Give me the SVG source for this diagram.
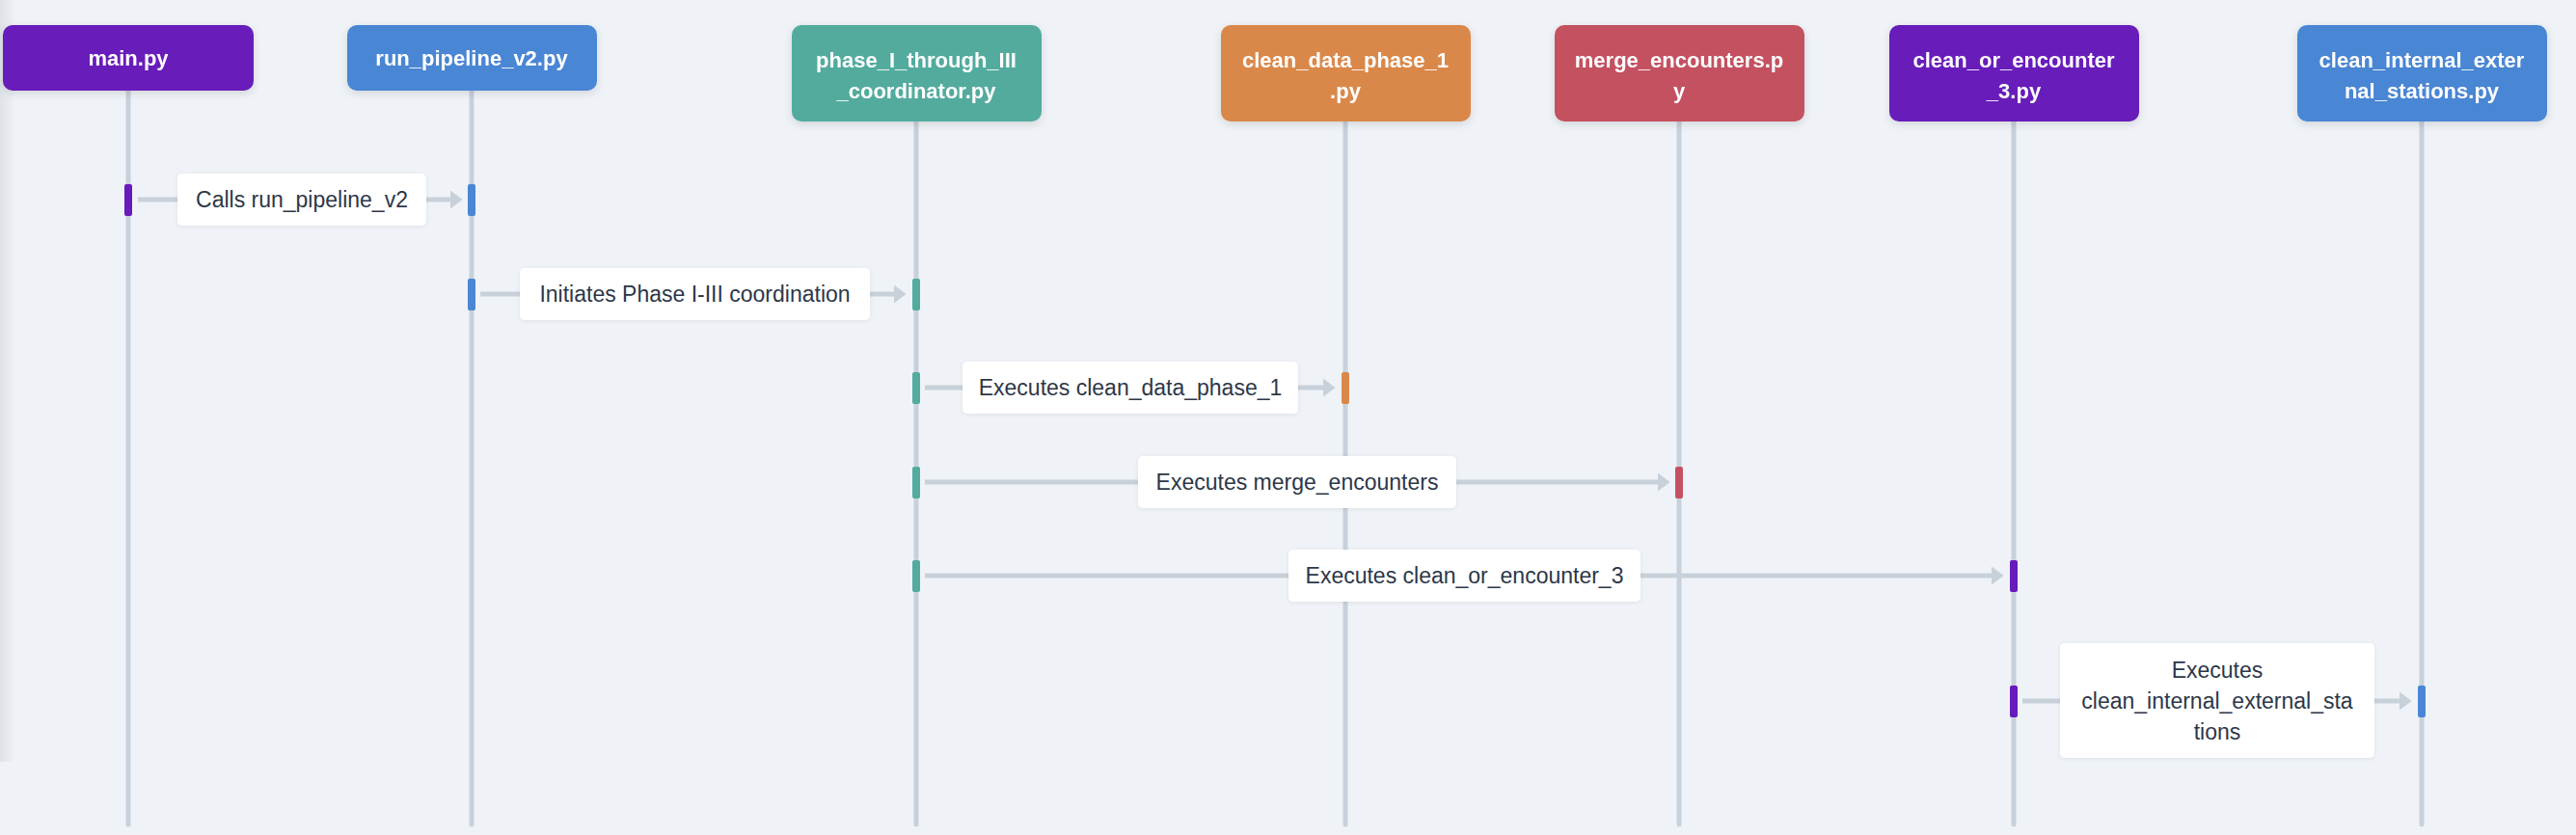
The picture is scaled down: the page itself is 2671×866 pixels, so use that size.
<svg xmlns="http://www.w3.org/2000/svg" width="2671" height="866" viewBox="0 0 2671 866">
<style>
.node-text{font-family:"Liberation Sans",Arial,sans-serif;font-size:22px;font-weight:600;fill:#ffffff;text-anchor:middle}
.lbl-text{font-family:"Liberation Sans",Arial,sans-serif;font-size:23px;fill:#2d3748;text-anchor:middle}
.life{stroke:#c7d1dc;stroke-width:5;stroke-linecap:round;fill:none}
.msg{stroke:#c8d1da;stroke-width:5;fill:none;marker-end:url(#arrow)}
.lbl-box{fill:#ffffff;filter:url(#lshadow)}
.purple{fill:#681aba}
.blue{fill:#4a86d4}
.teal{fill:#52ab9e}
.orange{fill:#da884a}
.red{fill:#c45161}
</style>
<defs>
<filter id="nshadow" x="-10%" y="-20%" width="120%" height="150%">
<feDropShadow dx="0" dy="3" stdDeviation="4" flood-color="#000000" flood-opacity="0.12"/>
</filter>
<filter id="lshadow" x="-10%" y="-20%" width="120%" height="150%">
<feDropShadow dx="0" dy="1" stdDeviation="2" flood-color="#000000" flood-opacity="0.08"/>
</filter>
<linearGradient id="edge" x1="0" y1="0" x2="1" y2="0">
<stop offset="0" stop-color="#000000" stop-opacity="0.07"/>
<stop offset="1" stop-color="#000000" stop-opacity="0"/>
</linearGradient>
<marker id="arrow" markerUnits="userSpaceOnUse" markerWidth="14" markerHeight="20" refX="1" refY="9" orient="auto">
<path d="M0,0 L12,9 L0,18 z" fill="#c8d1da" stroke="#c8d1da" stroke-width="1" stroke-linejoin="round"/>
</marker>
</defs>
<rect x="0" y="0" width="2671" height="866" fill="#eff3f7"/>
<rect x="0" y="0" width="16" height="790" fill="url(#edge)"/>

<g id="lifelines">
<line class="life" x1="133" y1="94" x2="133" y2="855"/>
<line class="life" x1="489" y1="94" x2="489" y2="855"/>
<line class="life" x1="950" y1="126" x2="950" y2="855"/>
<line class="life" x1="1395" y1="126" x2="1395" y2="855"/>
<line class="life" x1="1741" y1="126" x2="1741" y2="855"/>
<line class="life" x1="2088" y1="126" x2="2088" y2="855"/>
<line class="life" x1="2511" y1="126" x2="2511" y2="855"/>
</g>

<g id="connectors">
<line class="msg" x1="143" y1="207" x2="468" y2="207"/>
<line class="msg" x1="498" y1="305" x2="928" y2="305"/>
<line class="msg" x1="959" y1="402" x2="1373" y2="402"/>
<line class="msg" x1="959" y1="500" x2="1720" y2="500"/>
<line class="msg" x1="959" y1="597" x2="2066" y2="597"/>
<line class="msg" x1="2097" y1="727" x2="2489" y2="727"/>

<g id="label1">
<rect class="lbl-box" x="184" y="180" width="258" height="54" rx="5"/>
<text class="lbl-text" x="313" y="215">Calls run_pipeline_v2</text>
</g>
<g id="label2">
<rect class="lbl-box" x="539" y="278" width="363" height="54" rx="5"/>
<text class="lbl-text" x="720.5" y="313">Initiates Phase I-III coordination</text>
</g>
<g id="label3">
<rect class="lbl-box" x="998" y="375" width="348" height="54" rx="5"/>
<text class="lbl-text" x="1172" y="410">Executes clean_data_phase_1</text>
</g>
<g id="label4">
<rect class="lbl-box" x="1180" y="473" width="330" height="54" rx="5"/>
<text class="lbl-text" x="1345" y="508">Executes merge_encounters</text>
</g>
<g id="label5">
<rect class="lbl-box" x="1336" y="570" width="365" height="54" rx="5"/>
<text class="lbl-text" x="1518.5" y="605">Executes clean_or_encounter_3</text>
</g>
<g id="label6">
<rect class="lbl-box" x="2136" y="667" width="326" height="119" rx="5"/>
<text class="lbl-text" x="2299" y="703">Executes</text>
<text class="lbl-text" x="2299" y="735">clean_internal_external_sta</text>
<text class="lbl-text" x="2299" y="767">tions</text>
</g>
</g>

<g id="activations">
<rect class="purple" x="129" y="191" width="8" height="33" rx="2"/>
<rect class="blue" x="485" y="191" width="8" height="33" rx="2"/>
<rect class="blue" x="485" y="289" width="8" height="33" rx="2"/>
<rect class="teal" x="946" y="289" width="8" height="33" rx="2"/>
<rect class="teal" x="946" y="386" width="8" height="33" rx="2"/>
<rect class="orange" x="1391" y="386" width="8" height="33" rx="2"/>
<rect class="teal" x="946" y="484" width="8" height="33" rx="2"/>
<rect class="red" x="1737" y="484" width="8" height="33" rx="2"/>
<rect class="teal" x="946" y="581" width="8" height="33" rx="2"/>
<rect class="purple" x="2084" y="581" width="8" height="33" rx="2"/>
<rect class="purple" x="2084" y="711" width="8" height="33" rx="2"/>
<rect class="blue" x="2507" y="711" width="8" height="33" rx="2"/>
</g>

<g id="node-main" filter="url(#nshadow)">
<rect class="purple" x="3" y="26" width="260" height="68" rx="10"/>
<text class="node-text" x="133" y="68">main.py</text>
</g>
<g id="node-run-pipeline" filter="url(#nshadow)">
<rect class="blue" x="360" y="26" width="259" height="68" rx="10"/>
<text class="node-text" x="489" y="68">run_pipeline_v2.py</text>
</g>
<g id="node-phase" filter="url(#nshadow)">
<rect class="teal" x="821" y="26" width="259" height="100" rx="10"/>
<text class="node-text" x="950" y="70">phase_I_through_III</text>
<text class="node-text" x="950" y="102">_coordinator.py</text>
</g>
<g id="node-clean-data" filter="url(#nshadow)">
<rect class="orange" x="1266" y="26" width="259" height="100" rx="10"/>
<text class="node-text" x="1395" y="70">clean_data_phase_1</text>
<text class="node-text" x="1395" y="102">.py</text>
</g>
<g id="node-merge" filter="url(#nshadow)">
<rect class="red" x="1612" y="26" width="259" height="100" rx="10"/>
<text class="node-text" x="1741" y="70">merge_encounters.p</text>
<text class="node-text" x="1741" y="102">y</text>
</g>
<g id="node-clean-or" filter="url(#nshadow)">
<rect class="purple" x="1959" y="26" width="259" height="100" rx="10"/>
<text class="node-text" x="2088" y="70">clean_or_encounter</text>
<text class="node-text" x="2088" y="102">_3.py</text>
</g>
<g id="node-clean-internal" filter="url(#nshadow)">
<rect class="blue" x="2382" y="26" width="259" height="100" rx="10"/>
<text class="node-text" x="2511" y="70">clean_internal_exter</text>
<text class="node-text" x="2511" y="102">nal_stations.py</text>
</g>
</svg>
